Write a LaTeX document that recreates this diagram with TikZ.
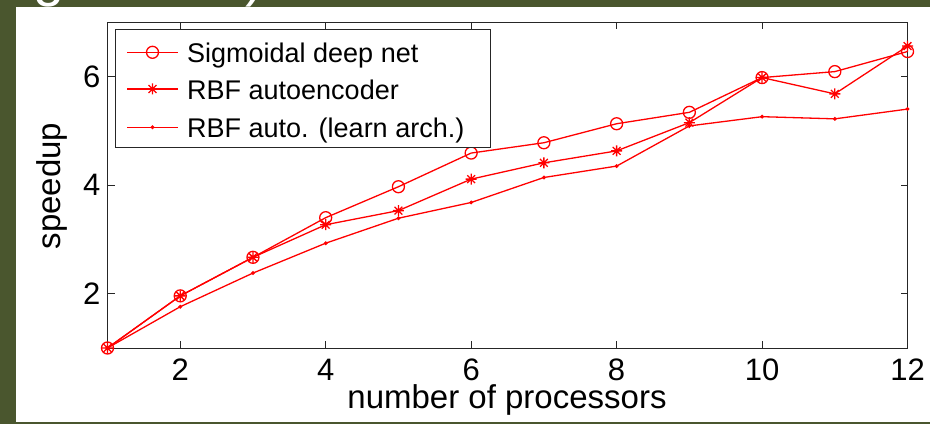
\documentclass[tikz,border=0pt]{standalone}
\usepackage{fontspec}
\setmainfont{Liberation Sans}
\usetikzlibrary{plotmarks}
\definecolor{slidegreen}{RGB}{74,86,46}
\colorlet{curvecol}{red}
% matlab style '*' marker
\pgfdeclareplotmark{matstar}{%
  \pgfpathmoveto{\pgfqpoint{-\pgfplotmarksize}{0pt}}%
  \pgfpathlineto{\pgfqpoint{\pgfplotmarksize}{0pt}}%
  \pgfpathmoveto{\pgfqpoint{0pt}{-\pgfplotmarksize}}%
  \pgfpathlineto{\pgfqpoint{0pt}{\pgfplotmarksize}}%
  \pgfpathmoveto{\pgfqpoint{-.707\pgfplotmarksize}{-.707\pgfplotmarksize}}%
  \pgfpathlineto{\pgfqpoint{.707\pgfplotmarksize}{.707\pgfplotmarksize}}%
  \pgfpathmoveto{\pgfqpoint{-.707\pgfplotmarksize}{.707\pgfplotmarksize}}%
  \pgfpathlineto{\pgfqpoint{.707\pgfplotmarksize}{-.707\pgfplotmarksize}}%
  \pgfusepathqstroke}
\tikzset{
  axis frame/.style={draw=black!85, line width=1pt},
  tick label/.style={font=\fontsize{31}{36}\selectfont, inner sep=0pt},
  axis label/.style={font=\fontsize{33}{40}\selectfont, inner sep=0pt},
  legend text/.style={font=\fontsize{27}{32}\selectfont, inner sep=0pt, anchor=base west},
  curve/.style={draw=curvecol, line width=1.3pt},
  every mark/.append style={solid},
}

\begin{document}
\begin{tikzpicture}
\useasboundingbox (0,0) rectangle (930pt,424pt);
\fill[slidegreen] (0,0) rectangle (930pt,424pt);
\fill[white] (16pt,2pt) rectangle (930pt,417pt);
% bits of the slide title above the panel
\begin{scope}
  \clip (0,417pt) rectangle (930pt,424pt);
  \node[font=\fontsize{56}{60}\selectfont, text=white, inner sep=0pt, anchor=base west]
    (titleg) at (33pt,428.8pt) {g};
  \node[font=\fontsize{56}{60}\selectfont, text=white, inner sep=0pt, anchor=base west]
    (titlep) at (245pt,428.8pt) {)};
\end{scope}

\begin{scope}[shift={(34.77pt,21.7pt)}, x=72.73pt, y=54.3pt]
  \draw[axis frame] (1,1) rectangle (12,7);
  \foreach \n in {2,4,...,12}
  {
    \draw[axis frame] (\n,1) -- ++(0,7pt);
    \draw[axis frame] (\n,7) -- ++(0,-7pt);
    \node[tick label, anchor=north] (xt\n) at ([yshift=-11pt]\n,1) {\n};
  }
  \foreach \v in {2,4,6}
  {
    \draw[axis frame] (1,\v) -- ++(7pt,0);
    \draw[axis frame] (12,\v) -- ++(-7pt,0);
    \node[tick label, anchor=east] (yt\v) at ([xshift=-7pt]1,\v) {\v};
  }
  % speedup curves
  \draw[curve] plot[mark=o, mark size=6pt] coordinates {
    (1,1) (2,1.96) (3,2.67) (4,3.40) (5,3.97) (6,4.59)
    (7,4.78) (8,5.13) (9,5.34) (10,5.98) (11,6.09) (12,6.46)};
  \draw[curve] plot[mark=matstar, mark size=5.5pt] coordinates {
    (1,1) (2,1.96) (3,2.67) (4,3.27) (5,3.53) (6,4.11)
    (7,4.41) (8,4.63) (9,5.15) (10,5.98) (11,5.68) (12,6.56)};
  \draw[curve] plot[mark=*, mark size=1.2pt] coordinates {
    (1,1) (2,1.76) (3,2.38) (4,2.93) (5,3.39) (6,3.68)
    (7,4.14) (8,4.35) (9,5.09) (10,5.26) (11,5.22) (12,5.40)};
\end{scope}

\node[axis label, anchor=base] (xlabel) at (507pt,16pt) {number of processors};
\node[axis label, rotate=90] (ylabel) at (52pt,238pt) {speedup};

% legend
\draw[axis frame, fill=white] (115.7pt,394pt) rectangle (490.7pt,276.3pt);
\foreach \row/\mk/\ms/\txt [count=\i] in {371.7/o/6pt/{Sigmoidal deep net},
    335/matstar/5.5pt/{RBF autoencoder}, 296.7/*/1.2pt/{RBF auto. (learn arch.)}}
{
  \draw[curve] (127pt,\row pt) -- (178pt,\row pt);
  \path[curve] plot[mark=\mk, mark size=\ms] coordinates {(152.5pt,\row pt)};
  \node[legend text] (leg\i) at (187pt,\row pt-10.7pt) {\txt};
}
\end{tikzpicture}
\end{document}
